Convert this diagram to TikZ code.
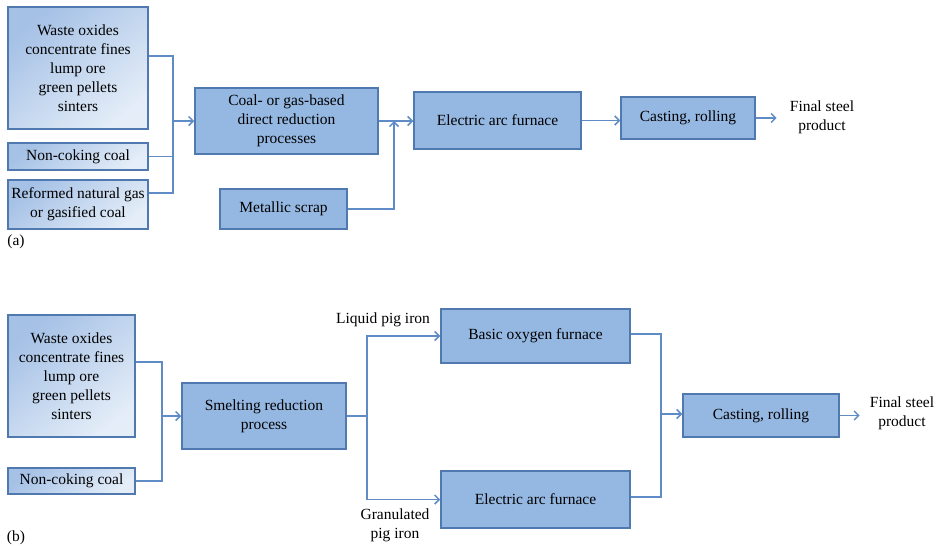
\documentclass[tikz,border=0pt]{standalone}
\usepackage{fontspec}
\setmainfont{Liberation Serif}
\usetikzlibrary{arrows.meta}
\definecolor{boxfill}{HTML}{95B8E2}
\definecolor{boxedge}{HTML}{5079B0}
\definecolor{flow}{HTML}{5F8CC7}
\definecolor{feedtop}{HTML}{A5C1E6}
\definecolor{feedlow}{HTML}{E4EDF8}
\tikzset{
  every node/.style={font=\fontsize{15.5}{19}\selectfont, align=center, inner sep=0pt},
  unit/.style={draw=boxedge, line width=1.5pt, fill=boxfill},
  feed/.style={draw=boxedge, line width=1.5pt, top color=feedtop, bottom color=feedlow, shading angle=40},
  link/.style={draw=flow, line width=1.5pt},
  flowarrow/.style={link, -{Straight Barb[length=4.5pt,width=9pt]}},
  plain/.style={}
}
\begin{document}
\begin{tikzpicture}[x=1pt,y=-1pt]
\useasboundingbox (0,0) rectangle (937,549);

% ---------- (a) direct reduction route ----------
\node[feed, minimum width=140, minimum height=122] (wa) at (78,68)
  {Waste oxides\\concentrate fines\\lump ore\\green pellets\\sinters};
\node[feed, minimum width=140, minimum height=27] (nca) at (78,156.5) {Non-coking coal};
\node[feed, minimum width=140, minimum height=49] (rga) at (78,204.5)
  {Reformed natural gas\\or gasified coal};
\node[unit, minimum width=183, minimum height=66] (dr) at (286.5,121)
  {Coal- or gas-based\\direct reduction\\processes};
\node[unit, minimum width=127, minimum height=40] (ms) at (283.5,209) {Metallic scrap};
\node[unit, minimum width=167, minimum height=57] (eafa) at (497.5,120.5) {Electric arc furnace};
\node[unit, minimum width=134, minimum height=42] (casta) at (688,118) {Casting, rolling};
\node[plain] (fa) at (822,117.5) {Final steel\\product};
\node[plain] (la) at (16,242) {(a)};

\coordinate (ja) at (173,121);
\coordinate (jb) at (394,121);
\draw[link] ([yshift=12pt]wa.east) -| (ja);
\draw[link] (nca.east) -| (ja);
\draw[link] ([yshift=11.5pt]rga.east) -| (ja);
\draw[flowarrow] (ja) -- (dr.west);
\draw[flowarrow] (dr.east) -- (dr.east -| eafa.west);
\draw[flowarrow] (ms.east) -| (jb);
\draw[flowarrow] (eafa.east) -- (eafa.east -| casta.west);
\draw[flowarrow, shorten >=13pt] (casta.east) -- (casta.east -| fa.west);

% ---------- (b) smelting reduction route ----------
\node[feed, minimum width=127, minimum height=122] (wb) at (71.5,376)
  {Waste oxides\\concentrate fines\\lump ore\\green pellets\\sinters};
\node[feed, minimum width=127, minimum height=26] (ncb) at (71.5,481) {Non-coking coal};
\node[unit, minimum width=164, minimum height=66] (sm) at (264,416)
  {Smelting reduction\\process};
\node[unit, minimum width=189, minimum height=54] (bof) at (535.5,336) {Basic oxygen furnace};
\node[unit, minimum width=189, minimum height=57] (eafb) at (535.5,499.5) {Electric arc furnace};
\node[unit, minimum width=156, minimum height=43] (castb) at (761,415.5) {Casting, rolling};
\node[plain] (fb) at (902,413) {Final steel\\product};
\node[plain] (lq) at (383,320) {Liquid pig iron};
\node[plain] (gr) at (395,525) {Granulated\\pig iron};
\node[plain] (lb) at (16,538) {(b)};

\coordinate (jc) at (162,416);
\coordinate (jd) at (367,416);
\coordinate (je) at (661,414);
\draw[link] ([yshift=14pt]wb.east) -| (jc);
\draw[link] (ncb.east) -| (jc);
\draw[flowarrow] (jc) -- (sm.west);
\draw[link] (sm.east) -- (jd);
\draw[flowarrow] (jd) |- (bof.west);
\draw[flowarrow] (jd) |- (eafb.west);
\draw[link] ([yshift=2pt]bof.east) -| (je);
\draw[link] ([yshift=2.5pt]eafb.east) -| (je);
\draw[flowarrow] (je) -- (je -| castb.west);
\draw[flowarrow, shorten >=10pt] (castb.east) -- (castb.east -| fb.west);
\end{tikzpicture}
\end{document}
